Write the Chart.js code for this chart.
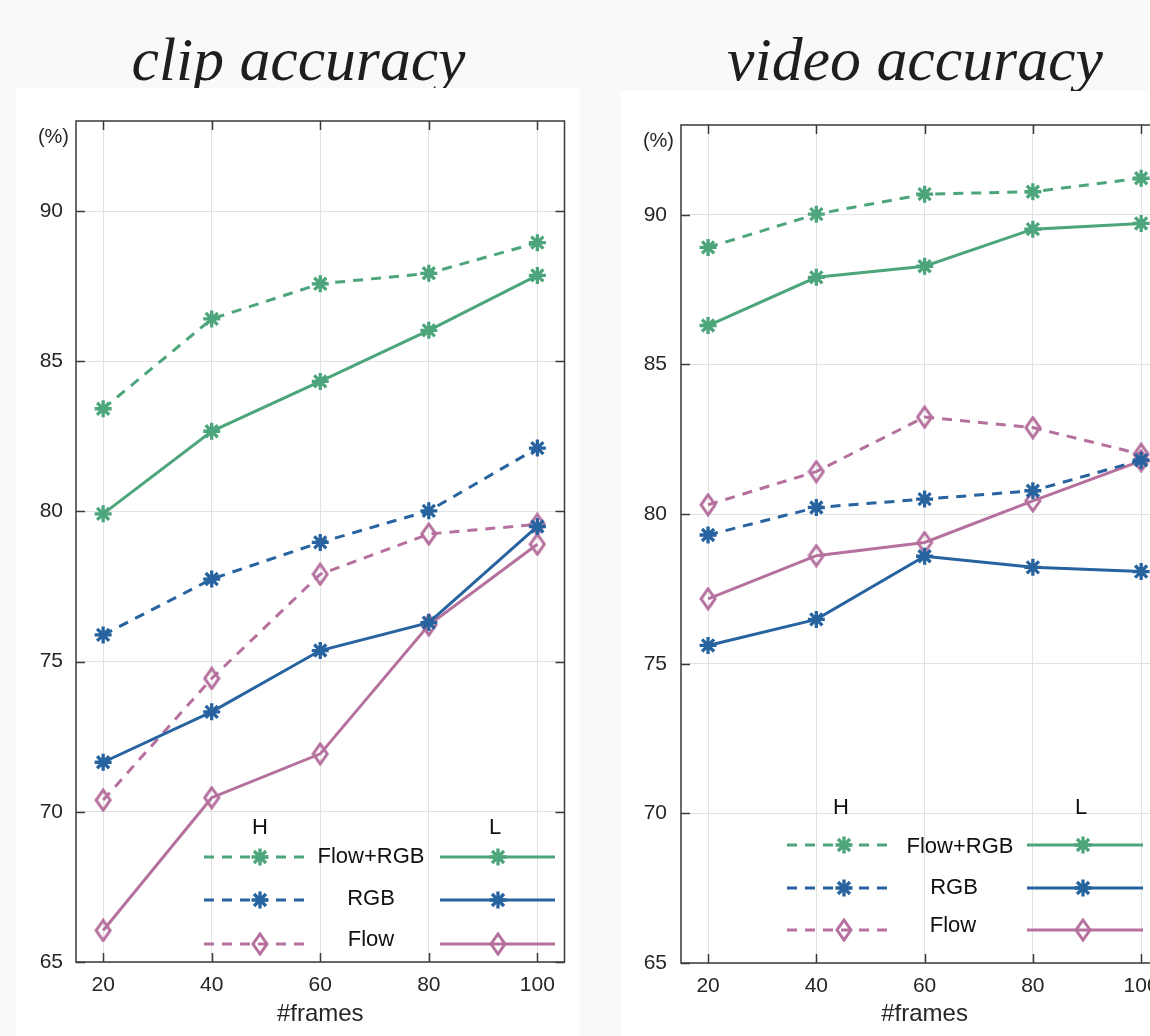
<!DOCTYPE html>
<html><head><meta charset="utf-8">
<script src="https://cdn.jsdelivr.net/npm/chart.js"></script>
<style>
html,body{margin:0;padding:0;background:#f9f9f9;width:1150px;height:1036px;overflow:hidden;position:relative;}
.title{position:absolute;font-family:'Liberation Serif',serif;font-style:italic;color:#1e1e1e;white-space:nowrap;line-height:1;font-size:60px;}
.panel{position:absolute;background:#fff;}
.cv{position:absolute;}
</style></head><body>
<div id="t1" class="title">clip accuracy</div>
<div id="t2" class="title">video accuracy</div>
<div class="panel" style="left:16px;top:88px;width:564px;height:948px"></div>
<div class="panel" style="left:621px;top:91px;width:529px;height:945px"></div>
<canvas id="c1" class="cv" width="580" height="948" style="left:0;top:88px"></canvas>
<canvas id="c2" class="cv" width="560" height="945" style="left:620px;top:91px"></canvas>
<script>
// ---- data ----
const frames = [20, 40, 60, 80, 100];
const xTicks = [20, 40, 60, 80, 100];
const yTicks = [65, 70, 75, 80, 85, 90];
const seriesNames = ['Flow+RGB', 'RGB', 'Flow'];
const groupHeaders = ['H', 'L'];

const clipFlowRgbH = [83.42, 86.41, 87.58, 87.93, 88.95];
const clipFlowRgbL = [79.92, 82.67, 84.33, 86.03, 87.86];
const clipRgbH     = [75.89, 77.75, 78.97, 80.02, 82.11];
const clipRgbL     = [71.65, 73.33, 75.37, 76.30, 79.50];
const clipFlowH    = [70.39, 74.44, 77.91, 79.25, 79.57];
const clipFlowL    = [66.05, 70.47, 71.93, 76.22, 78.91];

const videoFlowRgbH = [88.91, 90.02, 90.69, 90.77, 91.22];
const videoFlowRgbL = [86.30, 87.91, 88.28, 89.52, 89.71];
const videoRgbH     = [79.30, 80.22, 80.50, 80.78, 81.80];
const videoRgbL     = [75.61, 76.48, 78.59, 78.22, 78.08];
const videoFlowH    = [80.31, 81.42, 83.24, 82.89, 82.00];
const videoFlowL    = [77.17, 78.61, 79.05, 80.44, 81.78];

// ---- styles ----
const GREEN = '#4ca57b', BLUE = '#27639f', PINK = '#b5709e';
const AXIS = '#3a3a3a', TXT = '#262626', GRID = '#e1e1e1';
const SANS = "'Liberation Sans', Arial, sans-serif";
const STAR_R = 8.5, STAR_W = 3.3;

function diamondImg(color) {
  const c = document.createElement('canvas');
  c.width = 18; c.height = 24;
  const g = c.getContext('2d');
  g.strokeStyle = color; g.lineWidth = 3; g.lineJoin = 'miter';
  g.beginPath();
  g.moveTo(9, 2); g.lineTo(16, 12); g.lineTo(9, 22); g.lineTo(2, 12); g.closePath();
  g.stroke();
  return c;
}
const pinkDiamond = diamondImg(PINK);

function ds(values, color, dashed, marker) {
  return {
    data: frames.map((f, i) => ({x: f, y: values[i]})),
    borderColor: color, backgroundColor: 'rgba(0,0,0,0)',
    borderWidth: 3, borderDash: dashed ? [10, 8] : [],
    pointStyle: marker === 'star' ? 'star' : pinkDiamond,
    pointRadius: STAR_R, pointHoverRadius: STAR_R, pointBorderWidth: STAR_W,
    pointBorderColor: color, pointBackgroundColor: 'rgba(0,0,0,0)',
    tension: 0, clip: false
  };
}

const boxPlugin = {
  id: 'mbox',
  beforeDatasetsDraw(chart) {
    const {ctx, chartArea: a, scales: {x, y}} = chart;
    ctx.save();
    ctx.strokeStyle = AXIS; ctx.lineWidth = 1.5;
    ctx.strokeRect(a.left, a.top, a.right - a.left, a.bottom - a.top);
    const tl = 9;
    ctx.beginPath();
    xTicks.forEach(v => {
      const px = Math.round(x.getPixelForValue(v)) + 0.5;
      ctx.moveTo(px, a.bottom); ctx.lineTo(px, a.bottom - tl);
      ctx.moveTo(px, a.top); ctx.lineTo(px, a.top + tl);
    });
    yTicks.forEach(v => {
      const py = Math.round(y.getPixelForValue(v)) + 0.5;
      ctx.moveTo(a.left, py); ctx.lineTo(a.left + tl, py);
      ctx.moveTo(a.right, py); ctx.lineTo(a.right - tl, py);
    });
    ctx.stroke();
    ctx.fillStyle = TXT; ctx.font = '20px ' + SANS;
    ctx.textAlign = 'right'; ctx.textBaseline = 'middle';
    ctx.fillText('(%)', a.left - 7, a.top + 16);
    ctx.restore();
  }
};

const legendPlugin = {
  id: 'hlLegend',
  afterDatasetsDraw(chart) {
    const L = chart.options.plugins.hlLegend;
    if (!L) return;
    const ctx = chart.ctx;
    const colors = [GREEN, BLUE, PINK];
    const markers = ['star', 'star', 'diamond'];
    ctx.save();
    ctx.fillStyle = '#111'; ctx.font = '22px ' + SANS;
    ctx.textAlign = 'center'; ctx.textBaseline = 'middle';
    ctx.fillText(groupHeaders[0], L.hX, L.headerY);
    ctx.fillText(groupHeaders[1], L.lX, L.headerY);
    seriesNames.forEach((name, i) => {
      const yy = L.rowsY[i];
      const col = colors[i];
      ctx.strokeStyle = col; ctx.lineWidth = 3;
      ctx.setLineDash([10, 8]);
      ctx.beginPath(); ctx.moveTo(L.dash[0], yy); ctx.lineTo(L.dash[1], yy); ctx.stroke();
      ctx.setLineDash([]);
      ctx.beginPath(); ctx.moveTo(L.solid[0], yy); ctx.lineTo(L.solid[1], yy); ctx.stroke();
      [L.dashMark, L.solidMark].forEach(mx => {
        if (markers[i] === 'star') {
          ctx.strokeStyle = col; ctx.fillStyle = 'rgba(0,0,0,0)'; ctx.lineWidth = STAR_W;
          Chart.helpers.drawPoint(ctx, {pointStyle: 'star', radius: STAR_R, rotation: 0, borderWidth: STAR_W}, mx, yy);
        } else {
          ctx.drawImage(pinkDiamond, mx - pinkDiamond.width / 2, yy - pinkDiamond.height / 2);
        }
      });
      ctx.fillStyle = '#111';
      ctx.fillText(name, L.labelX[i], L.labelY[i]);
    });
    ctx.restore();
  }
};

function makeChart(id, sets, o) {
  return new Chart(document.getElementById(id), {
    type: 'line',
    data: {datasets: [
      ds(sets[0], GREEN, true, 'star'), ds(sets[1], GREEN, false, 'star'),
      ds(sets[2], BLUE, true, 'star'),  ds(sets[3], BLUE, false, 'star'),
      ds(sets[4], PINK, true, 'diamond'), ds(sets[5], PINK, false, 'diamond')
    ]},
    options: {
      responsive: false, animation: false, devicePixelRatio: 1,
      layout: {padding: {top: o.padTop, right: o.padRight, left: 0, bottom: 0}},
      plugins: {legend: {display: false}, tooltip: {enabled: false}, hlLegend: o.legend},
      scales: {
        x: {
          type: 'linear', min: 15, max: 105,
          afterBuildTicks: s => { s.ticks = xTicks.map(v => ({value: v})); },
          afterFit: s => { s.height = o.xHeight; },
          grid: {color: GRID, lineWidth: 1, drawTicks: false},
          border: {display: false},
          ticks: {padding: 11, color: TXT, maxRotation: 0, autoSkip: false, font: {family: SANS, size: 21}},
          title: {display: true, text: '#frames', color: TXT, font: {family: SANS, size: 24}, padding: {top: 0, bottom: 7}}
        },
        y: {
          type: 'linear', min: 65, max: 93,
          afterBuildTicks: s => { s.ticks = yTicks.map(v => ({value: v})); },
          afterFit: s => { s.width = o.yWidth; },
          grid: {color: GRID, lineWidth: 1, drawTicks: false},
          border: {display: false},
          ticks: {padding: o.yPad, color: TXT, font: {family: SANS, size: 21}}
        }
      }
    },
    plugins: [boxPlugin, legendPlugin]
  });
}

makeChart('c1', [clipFlowRgbH, clipFlowRgbL, clipRgbH, clipRgbL, clipFlowH, clipFlowL], {
  padTop: 33, padRight: 15.5, xHeight: 74, yWidth: 76, yPad: 13,
  legend: {headerY: 740, hX: 260, lX: 495, rowsY: [769, 812, 856], labelY: [769, 811, 852],
           dash: [204, 308], dashMark: 260, labelX: [371, 371, 371], solid: [440, 555], solidMark: 498}
});
makeChart('c2', [videoFlowRgbH, videoFlowRgbL, videoRgbH, videoRgbL, videoFlowH, videoFlowL], {
  padTop: 34, padRight: 10, xHeight: 73, yWidth: 61, yPad: 14,
  legend: {headerY: 717, hX: 221, lX: 461, rowsY: [754, 797, 839], labelY: [756, 797, 835],
           dash: [167, 272], dashMark: 224, labelX: [340, 334, 333], solid: [407, 523], solidMark: 463}
});

function fitTitle(id, cx, baseline, targetW) {
  const el = document.getElementById(id);
  el.style.fontSize = '60px';
  const w = el.getBoundingClientRect().width;
  const fs = 60 * targetW / w;
  el.style.fontSize = fs + 'px';
  const w2 = el.getBoundingClientRect().width;
  el.style.left = (cx - w2 / 2) + 'px';
  el.style.top = (baseline - 0.8375 * fs) + 'px';
}
fitTitle('t1', 298.5, 81, 334);
fitTitle('t2', 915, 81, 376);
</script>
</body></html>
